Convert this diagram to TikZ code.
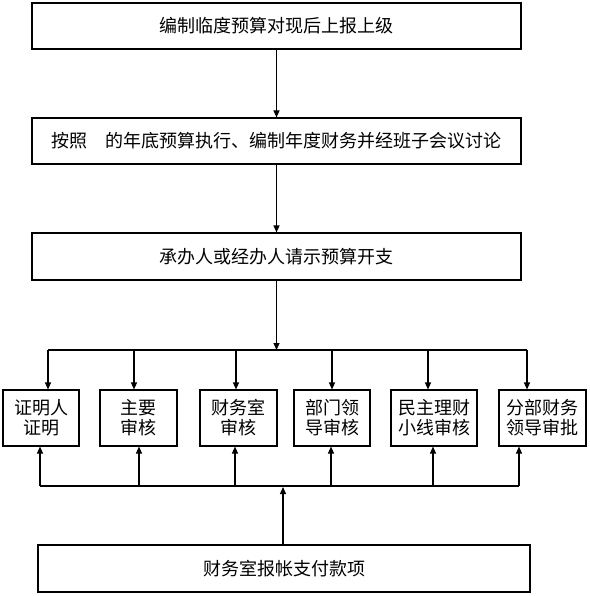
\documentclass[tikz,border=0pt]{standalone}
\usepackage{fontspec}
\newfontfamily\cjk{Noto Sans CJK SC}
\usetikzlibrary{arrows.meta}
\begin{document}
\begin{tikzpicture}[x=1bp,y=-1bp, line width=1.1bp,
  box/.style={draw, inner sep=0pt, font=\cjk\fontsize{18bp}{20bp}\selectfont, align=center},
  wide/.style={box, minimum width=489bp, minimum height=46bp},
  small/.style={box, minimum height=56bp},
  arr/.style={-{Triangle[length=7bp,width=6bp]}}]
\useasboundingbox (0,0) rectangle (590,596);
% main boxes
\node[wide] (a) at (276.5,26) {编制临度预算对现后上报上级};
\node[wide] (b) at (276.5,141) {按照\hspace{1em}的年底预算执行、编制年度财务并经班子会议讨论};
\node[wide, minimum height=47bp] (c) at (276.5,256.5) {承办人或经办人请示预算开支};
\node[box, minimum width=492bp, minimum height=47bp] (z) at (284,568.5) {财务室报帐支付款项};
% small boxes
\node[small, minimum width=76bp] (s1) at (41,418) {证明人\\证明};
\node[small, minimum width=77bp] (s2) at (138.5,418) {主要\\审核};
\node[small, minimum width=77bp] (s3) at (238.5,418) {财务室\\审核};
\node[small, minimum width=76bp] (s4) at (332,418) {部门领\\导审核};
\node[small, minimum width=86bp] (s5) at (434,418) {民主理财\\小线审核};
\node[small, minimum width=87bp] (s6) at (542.5,418) {分部财务\\领导审批};
% main flow
\draw[arr] (a.south) -- (b.north);
\draw[arr] (b.south) -- (c.north);
\coordinate (j) at (276.5,350);
\draw[arr] (c.south) -- (j);
% top bus
\coordinate (d1) at (48,350);
\coordinate (d2) at (134,350);
\coordinate (d3) at (236,350);
\coordinate (d4) at (332,350);
\coordinate (d5) at (428,350);
\coordinate (d6) at (527,350);
\draw (d1) -- (d6);
\draw[arr] (d1) -- (d1 |- s1.north);
\draw[arr] (d2) -- (d2 |- s2.north);
\draw[arr] (d3) -- (d3 |- s3.north);
\draw[arr] (d4) -- (d4 |- s4.north);
\draw[arr] (d5) -- (d5 |- s5.north);
\draw[arr] (d6) -- (d6 |- s6.north);
% bottom bus
\coordinate (u1) at (40,486);
\coordinate (u2) at (139,486);
\coordinate (u3) at (235,486);
\coordinate (u4) at (331,486);
\coordinate (u5) at (433,486);
\coordinate (u6) at (519,486);
\coordinate (k) at (283,487);
\draw (u1) -- (u6);
\draw[arr] (u1) -- (u1 |- s1.south);
\draw[arr] (u2) -- (u2 |- s2.south);
\draw[arr] (u3) -- (u3 |- s3.south);
\draw[arr] (u4) -- (u4 |- s4.south);
\draw[arr] (u5) -- (u5 |- s5.south);
\draw[arr] (u6) -- (u6 |- s6.south);
\draw[arr] (k |- z.north) -- (k);
\end{tikzpicture}
\end{document}
